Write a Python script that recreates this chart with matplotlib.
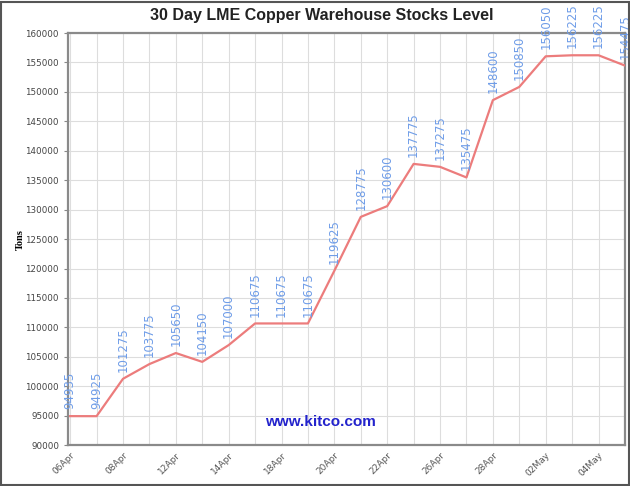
import matplotlib.pyplot as plt
from matplotlib.patches import Rectangle

# daily LME copper warehouse stocks (tons)
values = [94935, 94925, 101275, 103775, 105650, 104150, 107000, 110675,
          110675, 110675, 119625, 128775, 130600, 137775, 137275, 135475,
          148600, 150850, 156050, 156225, 156225, 154475]
tick_labels = ["06Apr", "08Apr", "12Apr", "14Apr", "18Apr", "20Apr",
               "22Apr", "26Apr", "28Apr", "02May", "04May"]

x = list(range(len(values)))

fig = plt.figure(figsize=(6.3, 4.86), dpi=100)
ax = fig.add_axes([0.108, 0.084, 0.884, 0.848])

ax.plot(x, values, color="#ec7c7c", linewidth=1.6, zorder=3)

for i, v in zip(x, values):
    ax.annotate(str(v), (i, v), xytext=(0, 5), textcoords="offset points",
                rotation=90, ha="center", va="bottom", fontsize=8.5,
                color="#6f9de8", annotation_clip=False, clip_on=False)

ax.set_xlim(-0.08, 21)
ax.set_ylim(90000, 160000)
ax.set_yticks(range(90000, 160001, 5000))
ax.set_xticks(x, minor=True)
ax.set_xticks(x[::2])
ax.set_xticklabels(tick_labels, rotation=45, ha="right", rotation_mode="anchor",
                   fontsize=6.5, color="#555555")
ax.tick_params(axis="y", labelsize=6.3, labelcolor="#444444", length=3, color="#888888")
ax.tick_params(axis="x", length=0, pad=4)
ax.tick_params(axis="x", which="minor", length=0)

ax.grid(True, which="both", color="#dddddd", linewidth=0.8)
ax.set_axisbelow(True)
for s in ax.spines.values():
    s.set_color("#8a8a8a")
    s.set_linewidth(1.6)

ax.set_ylabel("Tons", fontsize=7.5, fontweight="bold", family="Liberation Serif")
ax.yaxis.set_label_coords(-0.078, 0.5)
fig.text(0.51, 0.968, "30 Day LME Copper Warehouse Stocks Level", ha="center", va="center",
         fontsize=11.5, fontweight="bold", color="#222222", family="Liberation Sans")
ax.text(9.46, 93900, "www.kitco.com", ha="center", va="center", fontsize=11,
        fontweight="bold", color="#2323cc", family="Liberation Sans")

fig.patches.append(Rectangle((0.002, 0.002), 0.996, 0.994, transform=fig.transFigure,
                             fill=False, edgecolor="#555555", linewidth=1.5))

fig.savefig("out.png", dpi=100)
